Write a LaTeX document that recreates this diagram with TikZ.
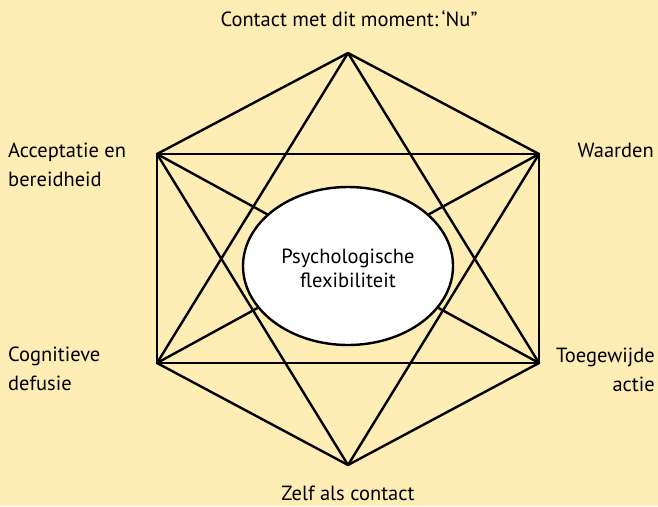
\documentclass[tikz,border=0pt]{standalone}
\usepackage{fontspec}
\setmainfont{PT Sans}
\usetikzlibrary{shapes.geometric}
\definecolor{bgyellow}{HTML}{FEEDB5}
\tikzset{
  lbl/.style={font=\fontsize{20.5}{29.5}\selectfont, inner sep=0pt, align=center},
  edge/.style={line width=2.4pt, line cap=round, line join=round}
}
\begin{document}
\begin{tikzpicture}[x=1pt,y=-1pt]
        \fill[bgyellow] (0,0) rectangle (658,506);
        \useasboundingbox (0,0) rectangle (658,506);

        \coordinate (top) at (348,53);
        \coordinate (ul) at (157,154);
        \coordinate (ur) at (539,154);
        \coordinate (ll) at (157,363);
        \coordinate (lr) at (539,363);
        \coordinate (bot) at (348,465);

        \foreach \a/\b in {top/ul, top/ur, ul/ll, ur/lr, ll/bot, lr/bot,
                           ul/ur, ll/lr, top/ll, top/lr, bot/ul, bot/ur,
                           ul/lr, ur/ll}
          \draw[edge] (\a) -- (\b);

        \node[ellipse, draw, fill=white, line width=2.4pt, minimum width=210pt,
              minimum height=158pt, inner sep=0pt] (pf) at (348,266) {};
        \node[lbl, font=\fontsize{20.5}{24}\selectfont] (pftxt) at (348,268) {Psychologische\\flexibiliteit};

        \node[lbl] (nu) at (349,19) {Contact met dit moment:\,‘Nu”};
        \node[lbl, anchor=west, align=left] (acc) at (8,165) {Acceptatie en\\bereidheid};
        \node[lbl, anchor=east] (waa) at (654,150) {Waarden};
        \node[lbl, anchor=west, align=left] (cog) at (8,369) {Cognitieve\\defusie};
        \node[lbl, anchor=east, align=right] (toe) at (655,370) {Toegewijde\\actie};
        \node[lbl] (zelf) at (348,493) {Zelf als contact};
      \end{tikzpicture}
\end{document}
